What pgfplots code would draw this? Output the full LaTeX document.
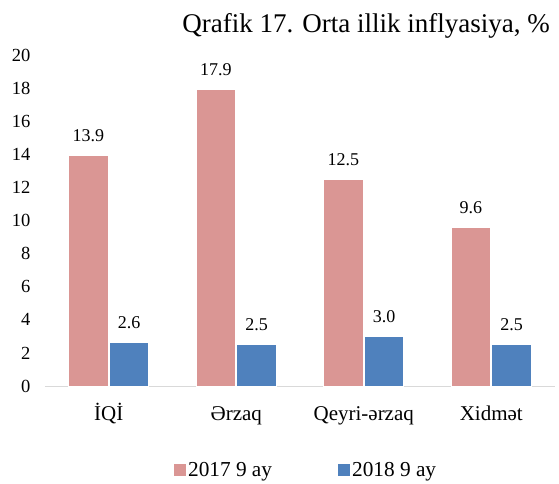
\documentclass[border=0pt]{standalone}
\usepackage{pgfplots}
\pgfplotsset{compat=1.18}
\usepackage{fontspec}
\setmainfont{Liberation Serif}
\definecolor{pinkbar}{HTML}{DA9694}
\definecolor{bluebar}{HTML}{4F81BD}
\definecolor{axisgray}{HTML}{D9D9D9}
\begin{document}
\begin{tikzpicture}
\useasboundingbox (-45pt,-97pt) rectangle (514pt,386pt);
\begin{axis}[
  at={(0pt,0pt)}, anchor=south west,
  scale only axis, width=510pt, height=331pt,
  xmin=-0.5, xmax=3.5, ymin=0, ymax=20,
  enlargelimits=false,
  axis lines*=left,
  y axis line style={draw=none},
  x axis line style={draw=axisgray, line width=1pt},
  major tick length=0pt,
  ytick={0,2,...,20},
  xtick={0,1,2,3},
  xticklabels={İQİ, Ərzaq, Qeyri-ərzaq, Xidmət},
  /pgf/number format/assume math mode=true,
  yticklabel style={font=\fontsize{18.5}{20}\selectfont, anchor=east, xshift=-11pt},
  xticklabel style={font=\fontsize{21}{24}\selectfont, anchor=base, yshift=-34pt},
  ybar, bar width=0.31,
  nodes near coords,
  nodes near coords style={font=\fontsize{18}{20}\selectfont, anchor=base, yshift=14pt,
    /pgf/number format/fixed, /pgf/number format/fixed zerofill, /pgf/number format/precision=1},
  legend style={at={(rel axis cs:0.512,-0.254)}, anchor=center, draw=none,
    font=\fontsize{21.3}{23}\selectfont, legend columns=2,
    /tikz/every even column/.append style={column sep=64pt}},
  legend image code/.code={\fill[#1, draw=none] (0pt,-6pt) rectangle (12pt,6pt);},
]
\addplot[fill=pinkbar, draw=white, line width=1pt, bar shift=-0.16] coordinates {(0,13.9) (1,17.9) (2,12.5) (3,9.6)};
\addplot[fill=bluebar, draw=white, line width=1pt, bar shift=0.16] coordinates {(0,2.6) (1,2.5) (2,3.0) (3,2.5)};
\legend{2017 9 ay, 2018 9 ay}
\end{axis}
\node[anchor=base east, font=\fontsize{27}{29}\selectfont, inner sep=0pt] at (505pt,353pt) {Qrafik 17. Orta illik inflyasiya, \%};
\end{tikzpicture}
\end{document}
